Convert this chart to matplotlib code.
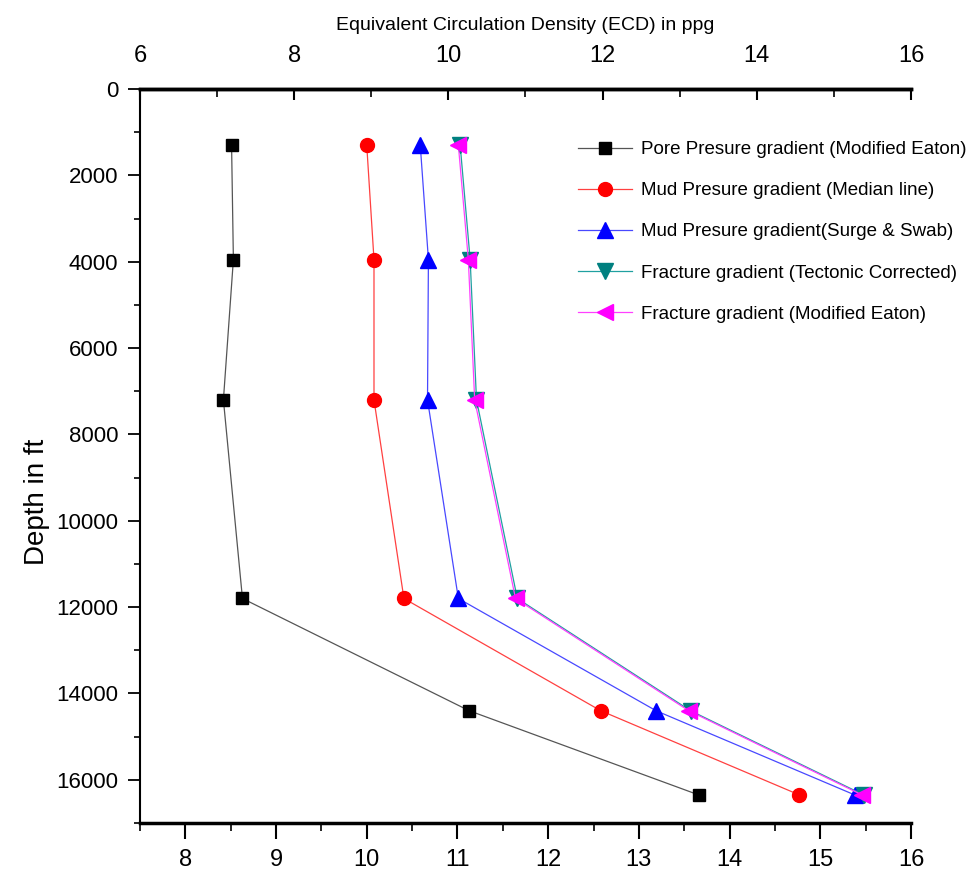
import matplotlib
matplotlib.use("Agg")
import matplotlib.pyplot as plt
from matplotlib.ticker import MultipleLocator, FixedLocator

depth = [1300, 3950, 7200, 11800, 14400, 16350]
pore_eaton = [8.51, 8.53, 8.42, 8.63, 11.13, 13.66]
mud_median = [10.0, 10.08, 10.08, 10.41, 12.58, 14.77]
mud_surge = [10.59, 10.68, 10.67, 11.01, 13.19, 15.38]
frac_tectonic = [11.03, 11.14, 11.21, 11.66, 13.57, 15.48]
frac_eaton = [11.01, 11.12, 11.19, 11.64, 13.55, 15.46]

top_ticks = [6, 8, 10, 12, 14, 16]
top_minor = [7, 9, 11, 13, 15]

labels = ["Pore Presure gradient (Modified Eaton)",
          "Mud Presure gradient (Median line)",
          "Mud Presure gradient(Surge & Swab)",
          "Fracture gradient (Tectonic Corrected)",
          "Fracture gradient (Modified Eaton)"]

arial = ["Liberation Sans", "DejaVu Sans"]

fig = plt.figure(figsize=(9.78, 8.76), dpi=100)
ax = fig.add_axes([0.1431, 0.0605, 0.9315 - 0.1431, 0.8984 - 0.0605])

series = [
    (pore_eaton, "#000000", "#555555", "s", 8.5),
    (mud_median, "#ff0000", "#ff4040", "o", 10),
    (mud_surge, "#0000ff", "#4848ff", "^", 11),
    (frac_tectonic, "#008080", "#20a0a0", "v", 11),
    (frac_eaton, "#ff00ff", "#ff40ff", "<", 11),
]
handles = []
for (vals, mc, lc, mk, ms), lab in zip(series, labels):
    h, = ax.plot(vals, depth, color=lc, lw=0.9, marker=mk, markersize=ms,
                 markerfacecolor=mc, markeredgecolor=mc, label=lab)
    handles.append(h)

ax.set_xlim(7.5, 16)
ax.set_ylim(17000, 0)

ax.spines["right"].set_visible(False)
ax.spines["top"].set_linewidth(2.5)
ax.spines["bottom"].set_linewidth(2.5)
ax.spines["left"].set_linewidth(1.5)

ax.xaxis.set_major_locator(MultipleLocator(1))
ax.xaxis.set_minor_locator(MultipleLocator(0.5))
ax.yaxis.set_major_locator(MultipleLocator(2000))
ax.yaxis.set_minor_locator(MultipleLocator(1000))
ax.tick_params(axis="x", which="major", direction="out", length=11.5, width=1.5,
               labelsize=17, pad=7.5, top=False)
ax.tick_params(axis="x", which="minor", direction="out", length=6, width=1.2, top=False)
ax.tick_params(axis="y", which="major", direction="out", length=8.5, width=1.3,
               labelsize=16, pad=7, right=False)
ax.tick_params(axis="y", which="minor", direction="out", length=4.5, width=1.2, right=False)
for t in ax.get_xticklabels() + ax.get_yticklabels():
    t.set_family(arial)

ax.set_ylabel("Depth in ft", fontsize=20, family=arial)
ax.yaxis.set_label_coords(-0.117, 0.437)

# top axis: ECD scale 6..16 spanning the same width
def fwd(x):
    return 6 + (x - 7.5) * 10.0 / 8.5

def inv(x):
    return 7.5 + (x - 6) * 8.5 / 10.0

top = ax.secondary_xaxis("top", functions=(fwd, inv))
top.xaxis.set_major_locator(FixedLocator(top_ticks))
top.xaxis.set_minor_locator(FixedLocator(top_minor))
top.tick_params(axis="x", which="major", direction="in", length=8, width=1.5,
                labelsize=17, pad=16)
top.tick_params(axis="x", which="minor", direction="in", length=6, width=1.2)
top.spines["top"].set_linewidth(2.5)
for t in top.get_xticklabels():
    t.set_family(arial)
top.set_xlabel("Equivalent Circulation Density (ECD) in ppg", fontsize=14,
               family=arial, labelpad=11)

leg = fig.legend(handles=handles, loc="upper left", bbox_to_anchor=(0.591, 0.839),
                 frameon=False, prop={"family": arial, "size": 13.5},
                 handlelength=2.9, handletextpad=0.45, labelspacing=1.28,
                 borderpad=0, borderaxespad=0)

fig.savefig("out.png", dpi=100, facecolor="white")
